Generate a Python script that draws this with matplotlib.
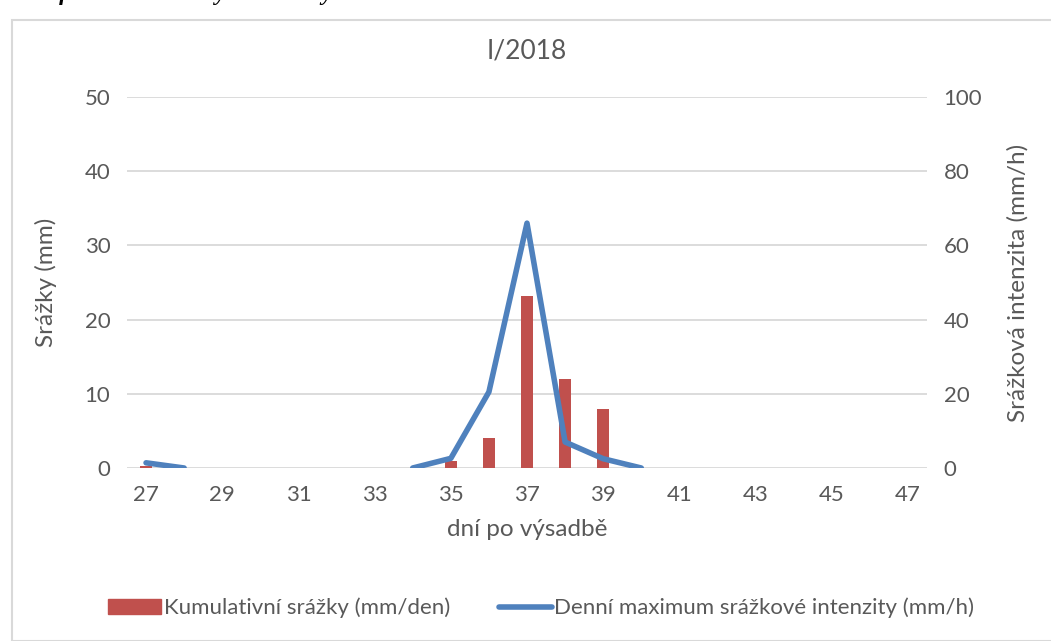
import matplotlib.pyplot as plt
import numpy as np
from matplotlib.patches import Rectangle

plt.rcParams['font.family'] = ['Lato', 'DejaVu Sans']

# data
days = list(range(27, 48))
srazky = [0.3, 0, 0, 0, 0, 0, 0, 0, 1, 4, 23.2, 12, 8, 0, 0, 0, 0, 0, 0, 0, 0]
intenzita = [1.4, 0, None, None, None, None, None, 0, 2.6, 20.5, 66, 7, 2.5, 0,
             None, None, None, None, None, None, None]

grey = '#595959'
fig = plt.figure(figsize=(10.51, 6.41), dpi=100)
fig.patches.append(Rectangle((12/1051, 0), 1, 1 - 20/641, transform=fig.transFigure,
                             fill=False, edgecolor='#d9d9d9', lw=1.5))
fig.text(0.02, 1.008, 'Graf. 16 Denní sumy a intenzity srážek období I. interval 2018',
         fontsize=17, fontweight='bold', style='italic', family='Liberation Serif',
         va='center', ha='left')

ax = fig.add_axes([127/1051, 1 - 468/641, 800/1051, 371/641])
x = np.arange(len(days))
ax.bar(x, srazky, width=0.31, color='#C0504D', zorder=2)
ax.set_ylim(0, 50)
ax.set_xlim(-0.5, len(days) - 0.5)
ax.set_yticks(range(0, 51, 10))
ax.yaxis.grid(True, color='#d9d9d9', lw=1.3, zorder=0)
ax.set_axisbelow(True)
ax.set_xticks(x[::2])
ax.set_xticklabels([str(d) for d in days[::2]])
for s in ax.spines.values():
    s.set_visible(False)
ax.tick_params(length=0, labelsize=16, colors=grey, pad=12)
ax.set_ylabel('Srážky (mm)', fontsize=17.5, color=grey, labelpad=20)
ax.set_xlabel('dní po výsadbě', fontsize=17.5, color=grey, labelpad=10)
ax.set_title('I/2018', fontsize=19, color=grey, pad=28)

ax2 = ax.twinx()
yv = np.array([np.nan if v is None else v for v in intenzita], dtype=float)
ax2.plot(x, yv, color='#4F81BD', lw=4, solid_capstyle='round', solid_joinstyle='round')
ax2.set_ylim(0, 100)
ax2.set_yticks(range(0, 101, 20))
for s in ax2.spines.values():
    s.set_visible(False)
ax2.tick_params(length=0, labelsize=16, colors=grey, pad=12)
ax2.set_ylabel('Srážková intenzita (mm/h)', fontsize=17.5, color=grey, labelpad=18)

h1 = Rectangle((0, 0), 1, 1, color='#C0504D')
h2 = plt.Line2D([], [], color='#4F81BD', lw=4, solid_capstyle='round')
fig.legend([h1, h2], ['Kumulativní srážky (mm/den)', 'Denní maximum srážkové intenzity (mm/h)'],
           loc='center', bbox_to_anchor=(0.515, 1 - 608/641), ncol=2, frameon=False,
           fontsize=16, labelcolor=grey, handlelength=2.4, handletextpad=0.1, columnspacing=2.2)

fig.savefig('out.png', dpi=100)
